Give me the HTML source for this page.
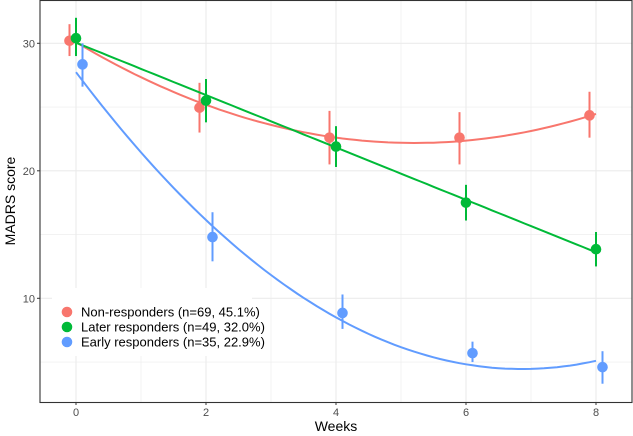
<!DOCTYPE html>
<html><head><meta charset="utf-8"><style>
body{margin:0;background:#fff;}
svg{display:block;font-family:"Liberation Sans",sans-serif;}
</style></head><body>
<svg id="chart" width="633" height="436"></svg>
<script>
const weeks=[0,2,4,6,8];
const groupNames=["Non-responders (n=69, 45.1%)","Later responders (n=49, 32.0%)","Early responders (n=35, 22.9%)"];
const nonMean=[30.2,24.95,22.6,22.6,24.35];
const nonLo=[29.0,23.0,20.5,20.5,22.6];
const nonHi=[31.5,26.9,24.7,24.6,26.2];
const laterMean=[30.4,25.5,21.9,17.5,13.85];
const laterLo=[29.0,23.8,20.3,16.1,12.5];
const laterHi=[32.0,27.2,23.5,18.9,15.2];
const earlyMean=[28.35,14.8,8.85,5.7,4.6];
const earlyLo=[26.6,12.9,7.6,5.0,3.3];
const earlyHi=[30.0,16.75,10.3,6.6,5.85];
const xTicks=[0,2,4,6,8];
const yTicks=[10,20,30];
const colors=["#F8766D","#00BA38","#619CFF"];
const dodge=[-0.1,0,0.1];
const fitDegree=[2,1,2];

const NS="http://www.w3.org/2000/svg";
const svg=document.getElementById("chart");
const L=40,R=632,T=0,B=402;
const X=w=>76+w*65;
const Y=v=>43.3+(30-v)*12.75;
function mk(tag,attrs,parent){const e=document.createElementNS(NS,tag);for(const k in attrs)e.setAttribute(k,attrs[k]);(parent||svg).appendChild(e);return e;}

const panel=mk("rect",{x:L,y:T+0.5,width:R-L,height:B-T,fill:"#fff"});


const grid=mk("g",{});


for(let w=-1;w<=9;w++){const x=X(w);if(x<=L||x>=R)continue;mk("line",{x1:x,x2:x,y1:T,y2:B,stroke:"#ebebeb","stroke-width":w%2?0.6:1.1},grid);}
for(let v=0;v<=35;v+=5){const y=Y(v);if(y<=T||y>=B)continue;mk("line",{x1:L,x2:R,y1:y,y2:y,stroke:"#ebebeb","stroke-width":v%10?0.6:1.1},grid);}

function fit(xs,ys,deg){
  const n=deg+1;const A=[];for(let i=0;i<n;i++){A.push(new Array(n+1).fill(0));}
  for(let k=0;k<xs.length;k++){for(let i=0;i<n;i++){for(let j=0;j<n;j++)A[i][j]+=Math.pow(xs[k],i+j);A[i][n]+=ys[k]*Math.pow(xs[k],i);}}
  for(let i=0;i<n;i++){let p=i;for(let r=i+1;r<n;r++)if(Math.abs(A[r][i])>Math.abs(A[p][i]))p=r;[A[i],A[p]]=[A[p],A[i]];
    for(let r=0;r<n;r++){if(r===i)continue;const f=A[r][i]/A[i][i];for(let c=i;c<=n;c++)A[r][c]-=f*A[i][c];}}
  return A.map((row,i)=>row[n]/row[i]);
}
const means=[nonMean,laterMean,earlyMean],los=[nonLo,laterLo,earlyLo],his=[nonHi,laterHi,earlyHi];
const keys=["non-responders","later-responders","early-responders"];
for(let g=0;g<3;g++){
  const grp=mk("g",{});
  
  
  const c=fit(weeks,means[g],fitDegree[g]);
  let d="";for(let i=0;i<=80;i++){const t=i/10;let v=0;c.forEach((a,p)=>v+=a*Math.pow(t,p));d+=(i?"L":"M")+X(t).toFixed(1)+","+Y(v).toFixed(1);}
  const ln=mk("path",{d:d,fill:"none",stroke:colors[g],"stroke-width":2},grp);
  
  
  weeks.forEach((w,i)=>{
    const x=X(w+dodge[g]);
    const eb=mk("line",{x1:x,x2:x,y1:Y(los[g][i]),y2:Y(his[g][i]),stroke:colors[g],"stroke-width":2},grp);
    
    
    const pt=mk("circle",{cx:x,cy:Y(means[g][i]),r:5.3,fill:colors[g]},grp);
    
    
  });
}
const border=mk("rect",{x:L,y:T+0.5,width:R-L,height:B-T,fill:"none",stroke:"#333","stroke-width":1.1});



xTicks.forEach(w=>{
  mk("line",{x1:X(w),x2:X(w),y1:B,y2:B+3,stroke:"#333","stroke-width":1});
  const t=mk("text",{x:X(w),y:B+14,"text-anchor":"middle","font-size":11,fill:"#4d4d4d"});t.textContent=w;
  
  
});
yTicks.forEach(v=>{
  mk("line",{x1:L-3,x2:L,y1:Y(v),y2:Y(v),stroke:"#333","stroke-width":1});
  const t=mk("text",{x:L-5,y:Y(v)+4,"text-anchor":"end","font-size":11,fill:"#4d4d4d"});t.textContent=v;
  
  
});
const xt=mk("text",{x:336,y:431,"text-anchor":"middle","font-size":14,fill:"#000"});xt.textContent="Weeks";


const yt=mk("text",{x:0,y:0,"text-anchor":"middle","font-size":14,fill:"#000",transform:"translate(15,201) rotate(-90)"});yt.textContent="MADRS score";



const leg=mk("g",{});


mk("rect",{x:52,y:288,width:200,height:68,fill:"#fff"},leg);
groupNames.forEach((nm,i)=>{
  const e=mk("g",{},leg);
  
  
  const y=312+i*15;
  mk("circle",{cx:67,cy:y,r:5.3,fill:colors[i]},e);
  const t=mk("text",{x:81,y:y+4.5,"font-size":13,fill:"#000"},e);t.textContent=nm;
});
</script>
</body></html>
